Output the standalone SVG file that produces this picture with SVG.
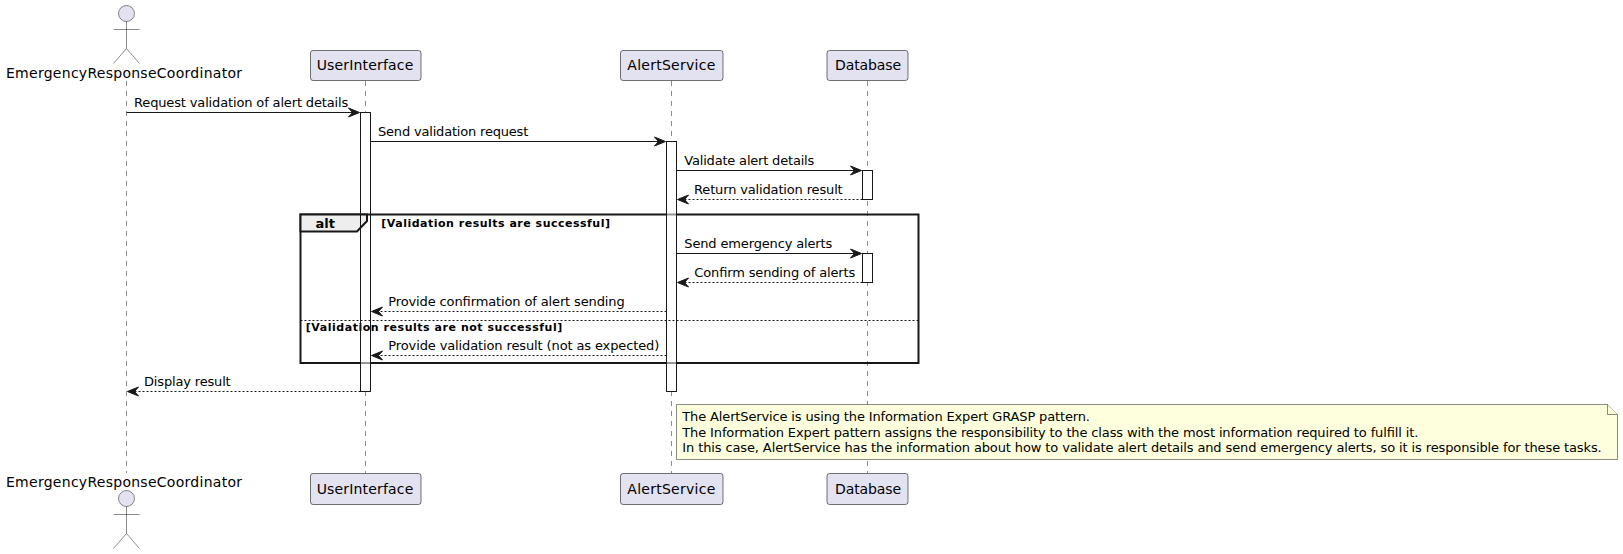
<svg xmlns="http://www.w3.org/2000/svg" width="1623" height="554" viewBox="0 0 1623 554">
<style>
text{font-family:"DejaVu Sans",sans-serif;fill:#000}
.p{font-size:14px}.m{font-size:13px}.b{font-size:11px;font-weight:bold}
.life{stroke:#181818;stroke-width:.5;stroke-dasharray:5 5;fill:none}
.box{fill:#E2E2F0;stroke:#181818;stroke-width:.6}
.actf{fill:#fff;stroke:none}
.act{fill:none;stroke:#181818;stroke-width:1}
.veil{fill:#fff;fill-opacity:.55}
.msg{stroke:#181818;stroke-width:1;fill:none}
.d{stroke-dasharray:2 2}
.ah{fill:#181818;stroke:#181818}
.actor{fill:none;stroke:#181818;stroke-width:.5}
.head{fill:#E2E2F0;stroke:#181818;stroke-width:.5}
</style>
<defs>
<path id="ar" class="ah" d="M0,0 L-11,-4.5 L-7,0 L-11,4.5 Z"/>
<path id="al" class="ah" d="M0,0 L11,-4.5 L7,0 L11,4.5 Z"/>
</defs>
<g id="lifelines">
<line class="life" x1="126.5" y1="81" x2="126.5" y2="473"/>
<line class="life" x1="365.5" y1="81" x2="365.5" y2="473"/>
<line class="life" x1="671.5" y1="81" x2="671.5" y2="473"/>
<line class="life" x1="867.5" y1="81" x2="867.5" y2="473"/>
</g>
<g id="activation-fills">
<rect class="actf" x="360.5" y="112.5" width="10" height="279"/>
<rect class="actf" x="666.5" y="141.5" width="10" height="250"/>
<rect class="actf" x="862.5" y="170.5" width="10" height="29"/>
<rect class="actf" x="862.5" y="253.5" width="10" height="29"/>
</g>
<g id="frame-alt">
<rect x="300.5" y="214.5" width="618" height="148.5" fill="none" stroke="#181818" stroke-width="2"/>
<path d="M300.5,214.5 H367 V221 L357,231.5 H300.5 Z" fill="#EEEEEE" stroke="#181818" stroke-width="2"/>
<text x="315.5" y="228" class="m" style="font-weight:bold" textLength="19.5">alt</text>
<text x="381.3" y="227" class="b" textLength="228.7">[Validation results are successful]</text>
<line x1="300.5" y1="320.5" x2="918.5" y2="320.5" stroke="#181818" stroke-width="1" stroke-dasharray="2 2"/>
<text x="305.7" y="331" class="b" textLength="256.6">[Validation results are not successful]</text>
<rect class="veil" x="667" y="213" width="9" height="3"/>
<rect class="veil" x="667" y="361.5" width="9" height="3"/>
<rect class="veil" x="361" y="361.5" width="9" height="3"/>
</g>
<g id="activations">
<rect class="act" x="360.5" y="112.5" width="10" height="279"/>
<rect class="act" x="666.5" y="141.5" width="10" height="250"/>
<rect class="act" x="862.5" y="170.5" width="10" height="29"/>
<rect class="act" x="862.5" y="253.5" width="10" height="29"/>
</g>
<g id="connectors">
<line class="msg" x1="126.5" y1="112.5" x2="355" y2="112.5"/><use href="#ar" x="359.5" y="112.5"/>
<text class="m" x="134" y="107" textLength="214.3">Request validation of alert details</text>
<line class="msg" x1="370.5" y1="141.5" x2="661" y2="141.5"/><use href="#ar" x="665.5" y="141.5"/>
<text class="m" x="378" y="136" textLength="150.3">Send validation request</text>
<line class="msg" x1="676.5" y1="170.5" x2="857" y2="170.5"/><use href="#ar" x="861.5" y="170.5"/>
<text class="m" x="684.3" y="165" textLength="130">Validate alert details</text>
<line class="msg d" x1="862.5" y1="199.5" x2="682" y2="199.5"/><use href="#al" x="677.5" y="199.5"/>
<text class="m" x="694" y="194" textLength="148.7">Return validation result</text>
<line class="msg" x1="676.5" y1="253.5" x2="857" y2="253.5"/><use href="#ar" x="861.5" y="253.5"/>
<text class="m" x="684.3" y="248" textLength="148">Send emergency alerts</text>
<line class="msg d" x1="862.5" y1="282.5" x2="682" y2="282.5"/><use href="#al" x="677.5" y="282.5"/>
<text class="m" x="694.3" y="277" textLength="161">Confirm sending of alerts</text>
<line class="msg d" x1="666.5" y1="311.5" x2="376" y2="311.5"/><use href="#al" x="371.5" y="311.5"/>
<text class="m" x="388.3" y="306" textLength="236.4">Provide confirmation of alert sending</text>
<line class="msg d" x1="666.5" y1="355.5" x2="376" y2="355.5"/><use href="#al" x="371.5" y="355.5"/>
<text class="m" x="388.3" y="350" textLength="271">Provide validation result (not as expected)</text>
<line class="msg d" x1="360.5" y1="391.5" x2="132" y2="391.5"/><use href="#al" x="127.5" y="391.5"/>
<text class="m" x="144" y="386" textLength="86.7">Display result</text>
</g>
<g id="actor-top">
<circle class="head" cx="126.5" cy="13.5" r="8"/>
<path class="actor" d="M126.5,21.5 V48.5 M113.5,29.5 H139.5 M126.5,48.5 L113.5,63.5 M126.5,48.5 L139.5,63.5"/>
<text class="p" x="6" y="78" textLength="236">EmergencyResponseCoordinator</text>
</g>
<g id="actor-bottom">
<text class="p" x="6" y="487" textLength="236">EmergencyResponseCoordinator</text>
<circle class="head" cx="126.5" cy="498.5" r="8"/>
<path class="actor" d="M126.5,506.5 V533.5 M113.5,514.5 H139.5 M126.5,533.5 L113.5,548.5 M126.5,533.5 L139.5,548.5"/>
</g>
<g id="ui-top"><rect class="box" x="310.5" y="50.5" width="110.5" height="30" rx="2.5"/><text class="p" x="316.7" y="70" textLength="96.6">UserInterface</text></g>
<g id="alert-top"><rect class="box" x="620.5" y="50.5" width="102.5" height="30" rx="2.5"/><text class="p" x="627.3" y="70" textLength="88">AlertService</text></g>
<g id="db-top"><rect class="box" x="827" y="50.5" width="81" height="30" rx="2.5"/><text class="p" x="835" y="70" textLength="66">Database</text></g>
<g id="ui-bottom"><rect class="box" x="310.5" y="473.5" width="110.5" height="31" rx="2.5"/><text class="p" x="316.7" y="494" textLength="96.6">UserInterface</text></g>
<g id="alert-bottom"><rect class="box" x="620.5" y="473.5" width="102.5" height="31" rx="2.5"/><text class="p" x="627.3" y="494" textLength="88">AlertService</text></g>
<g id="db-bottom"><rect class="box" x="827" y="473.5" width="81" height="31" rx="2.5"/><text class="p" x="835" y="494" textLength="66">Database</text></g>
<g id="note">
<path d="M676.5,404.5 H1607.5 L1617.5,414.5 V459.5 H676.5 Z" fill="#FEFFDD" stroke="#181818" stroke-width=".5"/>
<path d="M1607.5,404.5 V414.5 H1617.5" fill="#FEFFDD" stroke="#181818" stroke-width=".5"/>
<text class="m" x="682.3" y="421" textLength="407.7">The AlertService is using the Information Expert GRASP pattern.</text>
<text class="m" x="682.3" y="436.5" textLength="736">The Information Expert pattern assigns the responsibility to the class with the most information required to fulfill it.</text>
<text class="m" x="682.3" y="452" textLength="919.4">In this case, AlertService has the information about how to validate alert details and send emergency alerts, so it is responsible for these tasks.</text>
</g>
</svg>
